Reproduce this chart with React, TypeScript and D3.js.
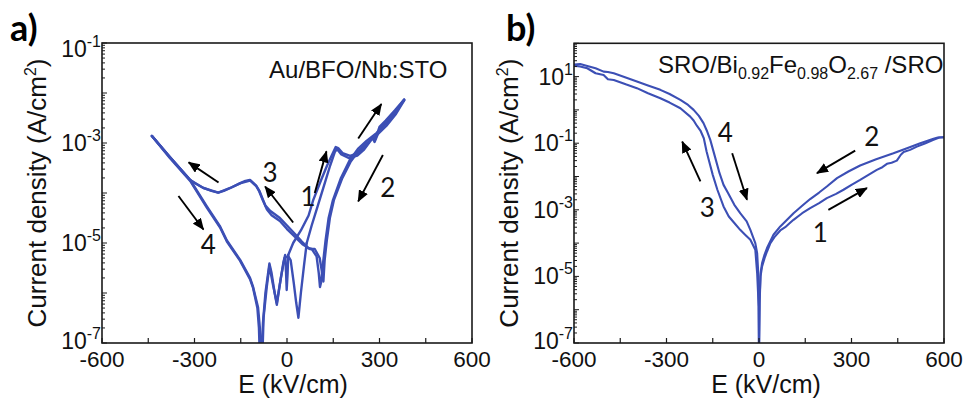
import React from 'react';
import * as d3 from 'd3';

type Pt = [number, number];

// E in kV/cm, J in A/cm^2
const eLabelTicks = [-600, -300, 0, 300, 600];
const eAllTicks = [-600, -450, -300, -150, 0, 150, 300, 450, 600];
const aLabelExps = [-1, -3, -5, -7];
const bLabelExps = [1, -1, -3, -5, -7];

// a) Au/BFO/Nb:STO  - two overlapping cycles (A, B)
const aBranch4A: Pt[] = [
  [-438, 1.38e-3], [-380, 5.25e-4], [-314, 1.82e-4], [-260, 5.4e-5], [-217, 2.14e-5],
  [-195, 1.12e-5], [-152, 4.6e-6], [-120, 2.0e-6], [-110, 1.32e-6], [-94, 5.2e-7],
  [-88, 2.0e-7], [-85, 5e-8], [-82, 5e-8], [-78, 2.5e-7], [-70, 1.0e-6], [-57, 3.9e-6],
  [-50, 2.5e-6], [-40, 1.0e-6], [-33, 5.8e-7], [-25, 1.26e-6], [-12, 4.0e-6], [-6, 5.75e-6],
  [-3, 2.5e-6], [-1, 1.15e-6], [2, 2.5e-6], [4, 5.75e-6],
];
const aBranch1A: Pt[] = [
  [4, 5.75e-6], [20, 1.0e-5], [45, 1.78e-5], [70, 3.55e-5], [85, 7.2e-5], [110, 1.78e-4],
  [130, 3.55e-4], [145, 5.6e-4], [158, 8.3e-4], [166, 7.9e-4], [180, 6.3e-4], [205, 5.5e-4],
  [230, 6.3e-4], [250, 7.9e-4], [270, 1.12e-3], [279, 1.35e-3], [285, 1.15e-3], [292, 1.5e-3],
  [300, 2.1e-3], [320, 2.8e-3], [350, 4.5e-3], [380, 7.4e-3],
];
const aBranch2A: Pt[] = [
  [380, 7.4e-3], [350, 4.0e-3], [320, 2.4e-3], [290, 1.58e-3], [258, 1.1e-3], [230, 7.6e-4],
  [204, 4.6e-4], [175, 2.0e-4], [149, 7.2e-5], [135, 3.16e-5], [125, 1.12e-5], [117, 4.0e-6],
  [110, 1.58e-6], [107, 1.32e-6], [103, 2.5e-6], [96, 5.4e-6], [80, 7.6e-6], [69, 7.9e-6],
];
const aBranch3A: Pt[] = [
  [69, 7.9e-6], [48, 1.07e-5], [26, 1.51e-5], [0, 2.24e-5], [-23, 3.16e-5], [-55, 4.4e-5],
  [-70, 5.6e-5], [-80, 7.9e-5], [-90, 1.12e-4], [-100, 1.41e-4], [-120, 1.82e-4],
  [-135, 1.74e-4], [-152, 1.58e-4], [-184, 1.26e-4], [-205, 1.1e-4], [-223, 1.02e-4],
  [-245, 1.1e-4], [-271, 1.26e-4], [-300, 1.58e-4], [-314, 1.82e-4], [-380, 5.25e-4],
  [-438, 1.38e-3],
];
const aBranch4B: Pt[] = [
  [-438, 1.38e-3], [-380, 5.0e-4], [-314, 1.74e-4], [-260, 5.1e-5], [-217, 2.04e-5],
  [-195, 1.07e-5], [-152, 4.4e-6], [-120, 1.9e-6], [-110, 1.26e-6], [-96, 5.0e-7],
  [-91, 2.0e-7], [-88, 5e-8], [-80, 5e-8], [-76, 3.2e-7], [-66, 1.26e-6], [-57, 3.5e-6],
  [-45, 1.41e-6], [-33, 6.3e-7], [-20, 2.0e-6], [-8, 5.0e-6], [4, 5.5e-6], [12, 4.5e-6],
  [22, 1.58e-6], [30, 6.3e-7], [37, 3.2e-7], [45, 1.0e-6], [55, 3.5e-6], [64, 1.0e-5],
];
const aBranch1B: Pt[] = [
  [64, 1.0e-5], [80, 2.24e-5], [100, 5.6e-5], [120, 1.41e-4], [140, 3.55e-4], [155, 6.6e-4],
  [162, 7.6e-4], [175, 6.0e-4], [200, 5.0e-4], [228, 5.6e-4], [250, 7.4e-4], [268, 1.05e-3],
  [278, 1.26e-3], [284, 1.05e-3], [292, 1.38e-3], [302, 2.0e-3], [325, 2.8e-3], [355, 4.7e-3],
  [380, 7.1e-3],
];
const aBranch2B: Pt[] = [
  [380, 7.1e-3], [352, 3.7e-3], [322, 2.2e-3], [292, 1.45e-3], [260, 1.0e-3], [232, 6.9e-4],
  [206, 4.2e-4], [178, 1.9e-4], [152, 7.2e-5], [139, 3.16e-5], [129, 1.12e-5], [122, 4.5e-6],
  [118, 1.7e-6], [114, 2.5e-6], [106, 5.0e-6], [90, 7.6e-6], [75, 7.6e-6],
];
const aBranch3B: Pt[] = [
  [75, 7.6e-6], [50, 9.5e-6], [26, 1.32e-5], [0, 1.9e-5], [-23, 2.75e-5], [-50, 3.6e-5],
  [-65, 4.7e-5], [-78, 7.1e-5], [-90, 1.07e-4], [-100, 1.38e-4], [-120, 1.78e-4],
  [-150, 1.58e-4], [-184, 1.26e-4], [-223, 1.02e-4], [-271, 1.26e-4], [-314, 1.82e-4],
  [-380, 5.25e-4], [-438, 1.38e-3],
];

// b) SRO/BFO/SRO
const bBranch1: Pt[] = [
  [0, 5e-8], [2, 1.58e-6], [5, 1e-5], [10, 2e-5], [18, 3.55e-5], [26, 5.6e-5], [37, 1e-4],
  [50, 1.51e-4], [69, 2.4e-4], [85, 3.0e-4], [100, 4e-4], [112, 5e-4], [140, 7.9e-4],
  [166, 1.12e-3], [195, 1.58e-3], [220, 2.24e-3], [250, 3.0e-3], [274, 4e-3], [300, 5.6e-3],
  [328, 7.9e-3], [355, 1.12e-2], [382, 1.58e-2], [400, 1.9e-2], [415, 2.4e-2], [430, 2.6e-2],
  [447, 3.0e-2], [460, 4.5e-2], [469, 5.4e-2], [490, 6.3e-2], [512, 7.9e-2], [540, 0.1],
  [566, 0.126], [585, 0.148], [600, 0.151],
];
const bBranch2: Pt[] = [
  [600, 0.151], [580, 0.148], [566, 0.135], [523, 0.1], [480, 7.1e-2], [436, 5e-2],
  [380, 3.3e-2], [328, 2.14e-2], [290, 1.41e-2], [253, 8.9e-3], [220, 5e-3], [195, 3.3e-3],
  [166, 2.1e-3], [140, 1.32e-3], [112, 7.9e-4], [91, 5e-4], [69, 3.16e-4], [47, 1.78e-4],
  [26, 7.1e-5], [18, 4.5e-5], [10, 2.5e-5], [5, 1.26e-5], [2, 2e-6], [0, 5e-8],
];
const bBranch3: Pt[] = [
  [0, 5e-8], [-1, 1.26e-6], [-6, 1.26e-5], [-12, 6.3e-5], [-28, 1.26e-4], [-45, 1.78e-4],
  [-61, 2.5e-4], [-80, 4.0e-4], [-98, 6.3e-4], [-115, 1.26e-3], [-135, 4.0e-3],
  [-150, 1.12e-2], [-160, 2.5e-2], [-170, 5.6e-2], [-179, 0.141], [-190, 0.24], [-201, 0.33],
  [-212, 0.48], [-223, 0.63], [-255, 1.12], [-290, 1.66], [-320, 2.24], [-360, 3.16],
  [-396, 4.5], [-430, 5.75], [-471, 7.9], [-490, 8.3], [-504, 11.2], [-530, 12.6],
  [-557, 17.8], [-580, 20], [-600, 21.4],
];
const bBranch4: Pt[] = [
  [-600, 22.9], [-580, 24], [-557, 20.9], [-530, 17.8], [-504, 14.1], [-490, 13.8],
  [-471, 12.6], [-430, 9.3], [-396, 7.1], [-360, 5.4], [-320, 4.0], [-290, 3.0], [-255, 2.0],
  [-230, 1.41], [-212, 1.0], [-195, 0.66], [-180, 0.4], [-168, 0.224], [-158, 0.126],
  [-140, 3.16e-2], [-128, 1.26e-2], [-115, 5.6e-3], [-100, 3.16e-3], [-80, 1.41e-3],
  [-61, 7.9e-4], [-40, 4.5e-4], [-28, 2.5e-4], [-12, 1e-4], [-6, 5e-5], [-3, 1.58e-5],
  [-1, 1.26e-6], [0, 5e-8],
];

const BLUE = '#3c4fb5';
const SANS = '"Liberation Sans", Arial, sans-serif';
const CAL = 'Lato, "Open Sans", sans-serif';

type Note = { t: string; e: number; j: number };
type Arrow = [number, number, number, number];

function Panel(props: any) {
  const { id, left, right, top, bottom, yDomain, labelExps, curves, lw, tag, tagX,
    yTitleX, xTitleX, notes, arrows, header } = props;
  const x = d3.scaleLinear().domain([-600, 600]).range([left, right]);
  const y = d3.scaleLog().domain(yDomain).range([bottom, top]);
  const line = d3.line<Pt>().x(d => x(d[0])).y(d => y(d[1]));
  const lo = Math.round(Math.log10(yDomain[0]));
  const hi = Math.round(Math.log10(yDomain[1]));
  const yTicks: { v: number; major: boolean }[] = [];
  for (let e = lo; e < hi; e++)
    for (let k = 1; k < 10; k++) yTicks.push({ v: k * Math.pow(10, e), major: k === 1 });
  yTicks.push({ v: Math.pow(10, hi), major: true });
  const midY = (top + bottom) / 2;

  return (
    <g>
      <defs>
        <clipPath id={'clip-' + id}>
          <rect x={left} y={top} width={right - left} height={bottom - top} />
        </clipPath>
      </defs>
      <g clipPath={`url(#clip-${id})`} fill="none" stroke={BLUE} strokeWidth={lw}
        strokeLinejoin="round" strokeLinecap="round">
        {curves.map((c: Pt[], i: number) => <path key={i} d={line(c) || ''} />)}
      </g>
      <rect x={left} y={top} width={right - left} height={bottom - top}
        fill="none" stroke="#1a1a1a" strokeWidth={1.6} />
      {yTicks.map((t, i) => (
        <line key={i} x1={left} x2={left + (t.major ? 5 : 3)} y1={y(t.v)} y2={y(t.v)}
          stroke="#1a1a1a" strokeWidth={1} />
      ))}
      {eAllTicks.map(v => (
        <line key={v} x1={x(v)} x2={x(v)} y1={bottom} y2={bottom - 5} stroke="#1a1a1a" strokeWidth={1.2} />
      ))}
      {labelExps.map((e: number) => {
        const yy = y(Math.pow(10, e)) + (e === hi ? 6 : 0) - (e === lo ? 2 : 0);
        return (
          <text key={e} x={left - 1} y={yy + 8} textAnchor="end" fontFamily={SANS}
            fontSize={23} fill="#111">
            10<tspan dy={-10} fontSize={16}>{e}</tspan>
          </text>
        );
      })}
      {eLabelTicks.map(v => (
        <text key={v} x={x(v)} y={367} textAnchor="middle" fontFamily={SANS} fontSize={22.5} fill="#111">
          {v}
        </text>
      ))}
      <text x={xTitleX} y={393} textAnchor="middle" fontFamily={SANS} fontSize={25} fill="#111">
        E (kV/cm)
      </text>
      <text transform={`translate(${yTitleX},${midY}) rotate(-90)`} textAnchor="middle"
        fontFamily={SANS} fontSize={26} fill="#111">
        Current density (A/cm<tspan dy={-10} fontSize={16}>2</tspan><tspan dy={10}>)</tspan>
      </text>
      <text x={tagX} y={41} fontFamily={CAL} fontWeight={700} fontSize={36} fill="#000">{tag}</text>
      {header(x, y)}
      {notes.map((n: Note, i: number) => (
        <text key={i} x={x(n.e)} y={y(n.j)} dy="0.36em" textAnchor="middle" fontFamily={CAL}
          fontSize={26} fill="#111">{n.t}</text>
      ))}
      {arrows.map((a: Arrow, i: number) => (
        <line key={i} x1={x(a[0])} y1={y(a[1])} x2={x(a[2])} y2={y(a[3])} stroke="#000"
          strokeWidth={1.9} markerEnd="url(#head)" />
      ))}
    </g>
  );
}

const aNotes: Note[] = [
  { t: '3', e: -55, j: 2.5e-4 }, { t: '1', e: 68, j: 8.3e-5 },
  { t: '2', e: 327, j: 1.26e-4 }, { t: '4', e: -255, j: 9.1e-6 },
];
const aArrows: Arrow[] = [
  [90, 1e-4, 128, 6.8e-4], [231, 1.23e-3, 306, 6.0e-3], [311, 5.75e-4, 231, 6.8e-5],
  [20, 2.57e-5, -71, 1.35e-4], [-222, 1.62e-4, -319, 4.1e-4], [-352, 8.7e-5, -271, 1.86e-5],
];
const bNotes: Note[] = [
  { t: '4', e: -109, j: 0.204 }, { t: '3', e: -168, j: 1.15e-3 },
  { t: '2', e: 366, j: 0.155 }, { t: '1', e: 199, j: 2.04e-4 },
];
const bArrows: Arrow[] = [
  [-190, 7.1e-3, -249, 0.112], [-87, 5e-2, -39, 2e-3], [312, 6e-2, 188, 1.26e-2],
  [225, 1e-3, 350, 4.5e-3],
];

export default function App() {
  return (
    <svg width={966} height={400} style={{ position: 'absolute', left: 0, top: 0, background: '#fff' }}>
      <defs>
        <marker id="head" viewBox="0 0 12 10" refX={11} refY={5} markerWidth={12} markerHeight={10}
          markerUnits="userSpaceOnUse" orient="auto">
          <path d="M0,0 L12,5 L0,10 z" fill="#000" />
        </marker>
      </defs>
      <rect width={966} height={400} fill="#fff" />
      <Panel id="a" left={102} right={472} top={43} bottom={343} yDomain={[1e-7, 1e-1]}
        labelExps={aLabelExps} lw={2.4} tag="a)" tagX={10} yTitleX={46} xTitleX={293}
        curves={[aBranch4A, aBranch1A, aBranch2A, aBranch3A, aBranch4B, aBranch1B, aBranch2B, aBranch3B]}
        notes={aNotes} arrows={aArrows}
        header={(x: any, y: any) => (
          <text x={x(520)} y={y(1.95e-2)} textAnchor="end" fontFamily={SANS} fontSize={24} fill="#111">
            Au/BFO/Nb:STO
          </text>
        )} />
      <Panel id="b" left={574} right={944} top={43.3} bottom={343} yDomain={[1e-7, 1e2]}
        labelExps={bLabelExps} lw={2.1} tag="b)" tagX={506} yTitleX={518} xTitleX={766}
        curves={[bBranch1, bBranch2, bBranch3, bBranch4]}
        notes={bNotes} arrows={bArrows}
        header={(x: any, y: any) => (
          <text x={x(598)} y={y(12.9)} textAnchor="end" fontFamily={SANS} fontSize={24} fill="#111">
            SRO/Bi<tspan dy={6} fontSize={16}>0.92</tspan>
            <tspan dy={-6}>Fe</tspan><tspan dy={6} fontSize={16}>0.98</tspan>
            <tspan dy={-6}>O</tspan><tspan dy={6} fontSize={16}>2.67</tspan>
            <tspan dy={-6}> /SRO</tspan>
          </text>
        )} />
    </svg>
  );
}
